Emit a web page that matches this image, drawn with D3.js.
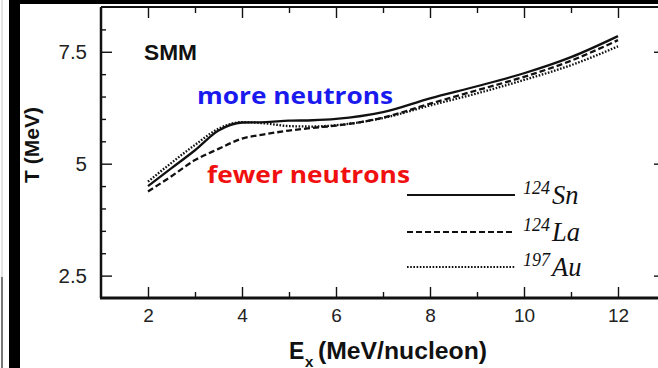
<!DOCTYPE html>
<html>
<head>
<meta charset="utf-8">
<script src="https://cdn.jsdelivr.net/npm/d3@7/dist/d3.min.js"></script>
<style>
  html, body { margin: 0; padding: 0; background: white; }
  svg { display: block; }
</style>
</head>
<body>
<div id="chart"></div>
<script>
'use strict';

// excitation energy (MeV/nucleon) where the curves were read
const energies = [2, 2.5, 3, 3.5, 4, 4.5, 5, 5.5, 6, 7, 8, 9, 10, 11, 12];
// temperature (MeV) for each system
const snTemps = [4.50, 4.90, 5.30, 5.74, 5.92, 5.93, 5.96, 5.97, 6.00, 6.15, 6.46, 6.73, 7.02, 7.38, 7.85];
const laTemps = [4.38, 4.72, 5.08, 5.33, 5.56, 5.66, 5.74, 5.80, 5.85, 6.03, 6.34, 6.64, 6.94, 7.30, 7.76];
const auTemps = [4.60, 5.02, 5.42, 5.78, 5.93, 5.90, 5.84, 5.83, 5.86, 6.02, 6.30, 6.57, 6.87, 7.20, 7.62];

const xTicks = [2, 4, 6, 8, 10, 12];
const xMinor = [3, 5, 7, 9, 11];
const yTicks = [2.5, 5, 7.5];
const yMinor = [3, 3.5, 4, 4.5, 5.5, 6, 6.5, 7, 8];

const series = [
  {mass: "124", name: "Sn", values: snTemps, dash: null},
  {mass: "124", name: "La", values: laTemps, dash: "6,3"},
  {mass: "197", name: "Au", values: auTemps, dash: "1.6,1.6"},
];

const W = 658, H = 368;
const plot = {left: 101, right: 665, top: 7, bottom: 298};

const svg = d3.select("#chart")
  .append("svg")
    .attr("width", W)
    .attr("height", H);

svg.append("rect").attr("width", W).attr("height", H).attr("fill", "white");

// slide edges around the figure
svg.append("line").attr("x1", 2).attr("x2", 2).attr("y1", 0).attr("y2", 277)
  .attr("stroke", "#e2e2e2").attr("stroke-width", 2);
svg.append("line").attr("x1", 2).attr("x2", 2).attr("y1", 277).attr("y2", H)
  .attr("stroke", "#777").attr("stroke-width", 2);
svg.append("rect").attr("x", 9).attr("y", 0).attr("width", 11).attr("height", H).attr("fill", "black");
svg.append("rect").attr("x", 9).attr("y", 0).attr("width", W - 9).attr("height", 4).attr("fill", "black");

const x = d3.scaleLinear().domain([1, 13]).range([plot.left, plot.right]);
const y = d3.scaleLinear().domain([2, 8.5]).range([plot.bottom, plot.top]);

const tickFont = "'Liberation Sans', Arial, sans-serif";

function styleAxis(g) {
  g.select(".domain").remove();
  g.selectAll(".tick line").attr("stroke", "#111").attr("stroke-width", 1.4);
}

// bottom
svg.append("g")
  .attr("transform", `translate(0,${y(2)})`)
  .call(d3.axisBottom(x).tickValues(xTicks).tickSize(-11).tickPadding(11).tickFormat(d3.format("d")))
  .call(styleAxis)
  .call(g => g.selectAll("text").attr("font-family", tickFont).attr("font-size", 19).attr("fill", "#222"));
svg.append("g")
  .attr("transform", `translate(0,${y(2)})`)
  .call(d3.axisBottom(x).tickValues(xMinor).tickSize(-6).tickFormat(""))
  .call(styleAxis);

// top
svg.append("g")
  .attr("transform", `translate(0,${y(8.5)})`)
  .call(d3.axisTop(x).tickValues(xTicks).tickSize(-11).tickFormat(""))
  .call(styleAxis);
svg.append("g")
  .attr("transform", `translate(0,${y(8.5)})`)
  .call(d3.axisTop(x).tickValues(xMinor).tickSize(-6).tickFormat(""))
  .call(styleAxis);

// left
svg.append("g")
  .attr("transform", `translate(${x(1)},0)`)
  .call(d3.axisLeft(y).tickValues(yTicks).tickSize(-11).tickPadding(14).tickFormat(d => d))
  .call(styleAxis)
  .call(g => g.selectAll("text").attr("font-family", tickFont).attr("font-size", 20.5).attr("fill", "#222"));
svg.append("g")
  .attr("transform", `translate(${x(1)},0)`)
  .call(d3.axisLeft(y).tickValues(yMinor).tickSize(-5).tickFormat(""))
  .call(styleAxis);

// right
svg.append("g")
  .attr("transform", `translate(${x(13)},0)`)
  .call(d3.axisRight(y).tickValues(yTicks).tickSize(-11).tickFormat(""))
  .call(styleAxis);
svg.append("g")
  .attr("transform", `translate(${x(13)},0)`)
  .call(d3.axisRight(y).tickValues(yMinor).tickSize(-5).tickFormat(""))
  .call(styleAxis);

// frame
svg.append("line").attr("x1", x(1)).attr("x2", x(13)).attr("y1", y(8.5)).attr("y2", y(8.5))
  .attr("stroke", "#111").attr("stroke-width", 2);
svg.append("line").attr("x1", x(1)).attr("x2", x(1)).attr("y1", y(8.5)).attr("y2", y(2))
  .attr("stroke", "#111").attr("stroke-width", 2.5);
svg.append("line").attr("x1", x(1) - 1).attr("x2", x(13)).attr("y1", y(2)).attr("y2", y(2))
  .attr("stroke", "#111").attr("stroke-width", 3);

// curves
const line = d3.line()
  .x(d => x(d[0]))
  .y(d => y(d[1]))
  .curve(d3.curveMonotoneX);

series.forEach(s => {
  svg.append("path")
    .datum(energies.map((e, i) => [e, s.values[i]]))
    .attr("fill", "none")
    .attr("stroke", "#111")
    .attr("stroke-width", 2.3)
    .attr("stroke-dasharray", s.dash)
    .attr("d", line);
});

// legend
const legendY = [195, 232, 267];
series.forEach((s, i) => {
  const ly = legendY[i];
  svg.append("line")
    .attr("x1", 407).attr("x2", 515).attr("y1", ly).attr("y2", ly)
    .attr("stroke", "#111").attr("stroke-width", 2)
    .attr("stroke-dasharray", s.dash);
  const t = svg.append("text")
    .attr("x", 523).attr("y", ly + 9)
    .attr("font-family", "'Liberation Serif', 'Times New Roman', serif")
    .attr("font-style", "italic")
    .attr("fill", "#111");
  t.append("tspan").attr("font-size", 18).attr("dy", -10).text(s.mass);
  t.append("tspan").attr("font-size", 26.5).attr("x", 552).attr("dy", 10).text(s.name);
});

// annotations
svg.append("text")
  .attr("x", 144).attr("y", 59.5)
  .attr("font-family", "'Liberation Sans', Arial, sans-serif")
  .attr("font-weight", "bold").attr("font-size", 21.5)
  .attr("textLength", 53).attr("lengthAdjust", "spacingAndGlyphs")
  .attr("fill", "#111")
  .text("SMM");

svg.append("text")
  .attr("x", 197).attr("y", 104)
  .attr("font-family", "'Open Sans', sans-serif")
  .attr("font-weight", "bold").attr("font-size", 23)
  .attr("textLength", 196).attr("lengthAdjust", "spacingAndGlyphs")
  .attr("fill", "#1a1aee")
  .text("more neutrons");

svg.append("text")
  .attr("x", 207).attr("y", 183)
  .attr("font-family", "'Open Sans', sans-serif")
  .attr("font-weight", "bold").attr("font-size", 23)
  .attr("textLength", 203).attr("lengthAdjust", "spacingAndGlyphs")
  .attr("fill", "#f01010")
  .text("fewer neutrons");

// axis titles
const xTitle = svg.append("g")
  .attr("font-family", "'Liberation Sans', Arial, sans-serif")
  .attr("font-weight", "bold")
  .attr("fill", "#111");
xTitle.append("text").attr("x", 289).attr("y", 358.5).attr("font-size", 23).text("E");
xTitle.append("text").attr("x", 305).attr("y", 366.5).attr("font-size", 15).text("x");
xTitle.append("text").attr("x", 318).attr("y", 358.5).attr("font-size", 23)
  .attr("textLength", 169).attr("lengthAdjust", "spacingAndGlyphs")
  .text("(MeV/nucleon)");

svg.append("text")
  .attr("transform", "translate(38.5,145) rotate(-90)")
  .attr("text-anchor", "middle")
  .attr("font-family", "'Liberation Sans', Arial, sans-serif")
  .attr("font-weight", "bold").attr("font-size", 21)
  .attr("fill", "#111")
  .text("T (MeV)");
</script>
</body>
</html>
